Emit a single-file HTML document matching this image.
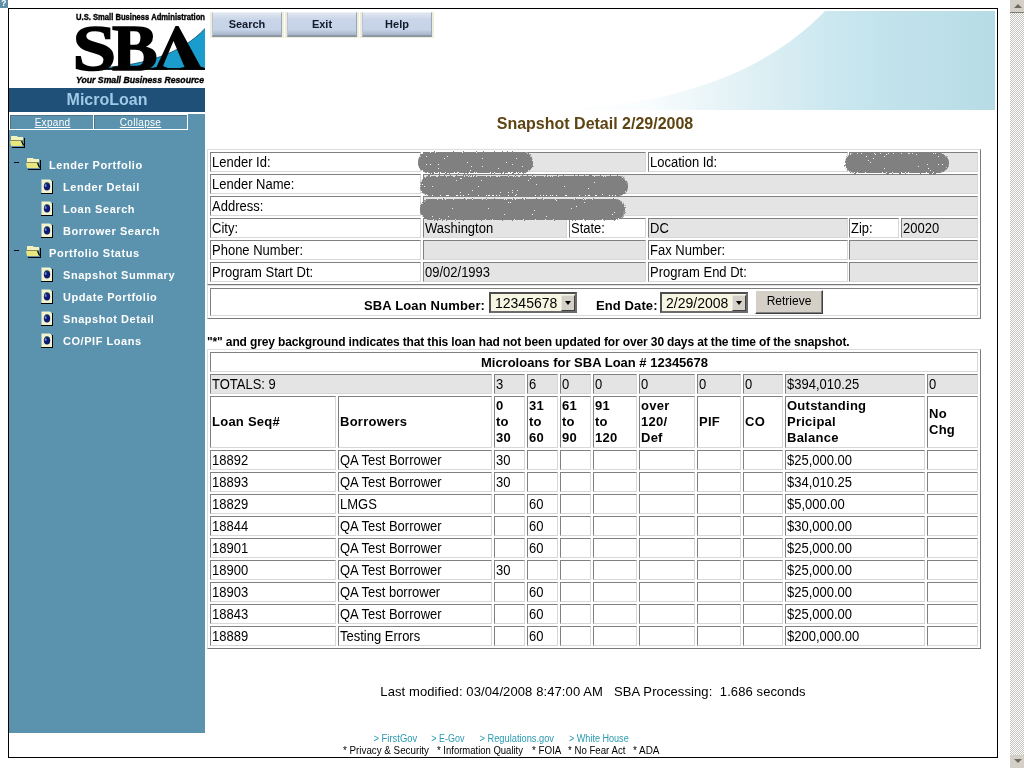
<!DOCTYPE html>
<html><head><meta charset="utf-8"><title>Snapshot Detail</title>
<style>
html,body{margin:0;padding:0;background:#fff;width:1024px;height:768px;overflow:hidden;}
body{position:relative;font-family:"Liberation Sans",sans-serif;will-change:transform;}
div{position:absolute;box-sizing:border-box;}
.c{font-size:13px;line-height:16px;padding:2px 0 0 1px;color:#000;white-space:nowrap;overflow:hidden;}
.b{font-weight:bold;}
.c:not(.b)>span{display:inline-block;transform:scaleY(1.1);transform-origin:0 12.5px;}
.nav{color:#fff;font-weight:bold;font-size:11px;letter-spacing:0.55px;white-space:nowrap;}
</style></head><body>

<div style="left:0;top:0;width:8px;height:8px;background:#5f8fa6;overflow:hidden;"><span style="position:absolute;left:1px;top:-2px;color:#fff;font:bold 9px 'Liberation Sans',sans-serif;">?</span></div>
<div style="left:8px;top:8px;width:990px;height:750px;border:1px solid #000;"></div>
<div style="left:1010px;top:0;width:14px;height:768px;background-color:#f4f3f0;background-image:conic-gradient(#c6c4c0 25%,#fff 0 50%,#c6c4c0 0 75%,#fff 0);background-size:2px 2px;"></div>
<div style="left:1010px;top:0;width:14px;height:13px;background:#d4d0c8;border-bottom:1px solid #807c74;"></div>
<div style="left:1014px;top:4px;width:0;height:0;border-left:4px solid transparent;border-right:4px solid transparent;border-bottom:4px solid #6e6a62;"></div>
<div style="left:1010px;top:755px;width:14px;height:13px;background:#d4d0c8;"></div>
<div style="left:1014px;top:759px;width:0;height:0;border-left:4px solid transparent;border-right:4px solid transparent;border-top:4px solid #6e6a62;"></div>
<svg style="position:absolute;left:0;top:0" width="1024" height="768" viewBox="0 0 1024 768">
<defs><linearGradient id="hg" x1="530" y1="0" x2="995" y2="0" gradientUnits="userSpaceOnUse">
<stop offset="0" stop-color="#ffffff"/><stop offset="0.24" stop-color="#fafdfe"/><stop offset="0.37" stop-color="#ecf6f9"/><stop offset="0.52" stop-color="#daeef3"/><stop offset="0.66" stop-color="#cae7ef"/><stop offset="0.79" stop-color="#c1e2eb"/><stop offset="1" stop-color="#b7dce6"/></linearGradient></defs>
<path d="M825 11 L995 11 L995 110 L530 110 C692 110 778 60 825 11 Z" fill="url(#hg)"/>
</svg>
<div style="left:9px;top:88px;width:196px;height:24px;background:#1f5078;"></div>
<div style="left:9px;top:88px;width:196px;height:24px;text-align:center;color:#9ecae8;font:bold 16px/24px 'Liberation Sans',sans-serif;">MicroLoan</div>
<div style="left:9px;top:112px;width:196px;height:621px;background:#5b93ae;"></div>
<div style="left:9px;top:112px;width:196px;height:2px;background:#fff;"></div>
<div style="left:9px;top:112px;width:179px;height:18px;background:#fff;"></div>
<div style="left:10px;top:115px;width:83px;height:14px;background:#5b93ae;border-top:1px solid #4d7488;border-left:1px solid #4d7488;"></div>
<div style="left:94px;top:115px;width:93px;height:14px;background:#5b93ae;border-top:1px solid #4d7488;border-left:1px solid #4d7488;"></div>
<div style="left:10px;top:115px;width:83px;height:14px;text-align:center;color:#fff;font:10px/15px 'Liberation Sans',sans-serif;letter-spacing:0.3px;text-decoration:underline;padding-left:2px;">Expand</div>
<div style="left:94px;top:115px;width:93px;height:14px;text-align:center;color:#fff;font:10px/15px 'Liberation Sans',sans-serif;letter-spacing:0.3px;text-decoration:underline;">Collapse</div>
<svg style="position:absolute;left:10px;top:135px" width="16" height="13" viewBox="0 0 16 13"><path d="M1 1H7L8 2H13V5H1Z" fill="#f3f1bc"/><rect x="1" y="5" width="12" height="1" fill="#8a8a5a"/><path d="M0 6H12L13 9V11H1Z" fill="#e8e67e"/><rect x="14" y="3" width="1" height="10" fill="#000"/><rect x="2" y="12" width="13" height="1" fill="#000"/><path d="M11.5 6L13.5 10.5" stroke="#000" stroke-width="1.2"/></svg>
<div style="left:14px;top:162px;width:5px;height:1px;background:#000;"></div>
<svg style="position:absolute;left:26px;top:157px" width="16" height="13" viewBox="0 0 16 13"><path d="M1 1H7L8 2H13V5H1Z" fill="#f3f1bc"/><rect x="1" y="5" width="12" height="1" fill="#8a8a5a"/><path d="M0 6H12L13 9V11H1Z" fill="#e8e67e"/><rect x="14" y="3" width="1" height="10" fill="#000"/><rect x="2" y="12" width="13" height="1" fill="#000"/><path d="M11.5 6L13.5 10.5" stroke="#000" stroke-width="1.2"/></svg>
<div class="nav" style="left:49px;top:158px;line-height:14px;">Lender Portfolio</div>
<svg style="position:absolute;left:41px;top:179px" width="13" height="16" viewBox="0 0 13 16"><path d="M0.5 0.5H9L11 2.5V14.5H0.5Z" fill="#f3f3cf"/><rect x="11" y="2" width="1" height="13" fill="#000"/><rect x="0" y="14" width="12" height="1" fill="#000"/><ellipse cx="6" cy="7.5" rx="3.2" ry="4" fill="#101a70"/><ellipse cx="4.6" cy="6.5" rx="1" ry="1.6" fill="#6a8ad8"/><path d="M4 4.2Q6 2.8 8.5 4.5" stroke="#2a6a50" stroke-width="0.8" fill="none"/></svg>
<div class="nav" style="left:63px;top:180px;line-height:14px;">Lender Detail</div>
<svg style="position:absolute;left:41px;top:201px" width="13" height="16" viewBox="0 0 13 16"><path d="M0.5 0.5H9L11 2.5V14.5H0.5Z" fill="#f3f3cf"/><rect x="11" y="2" width="1" height="13" fill="#000"/><rect x="0" y="14" width="12" height="1" fill="#000"/><ellipse cx="6" cy="7.5" rx="3.2" ry="4" fill="#101a70"/><ellipse cx="4.6" cy="6.5" rx="1" ry="1.6" fill="#6a8ad8"/><path d="M4 4.2Q6 2.8 8.5 4.5" stroke="#2a6a50" stroke-width="0.8" fill="none"/></svg>
<div class="nav" style="left:63px;top:202px;line-height:14px;">Loan Search</div>
<svg style="position:absolute;left:41px;top:223px" width="13" height="16" viewBox="0 0 13 16"><path d="M0.5 0.5H9L11 2.5V14.5H0.5Z" fill="#f3f3cf"/><rect x="11" y="2" width="1" height="13" fill="#000"/><rect x="0" y="14" width="12" height="1" fill="#000"/><ellipse cx="6" cy="7.5" rx="3.2" ry="4" fill="#101a70"/><ellipse cx="4.6" cy="6.5" rx="1" ry="1.6" fill="#6a8ad8"/><path d="M4 4.2Q6 2.8 8.5 4.5" stroke="#2a6a50" stroke-width="0.8" fill="none"/></svg>
<div class="nav" style="left:63px;top:224px;line-height:14px;">Borrower Search</div>
<div style="left:14px;top:250px;width:5px;height:1px;background:#000;"></div>
<svg style="position:absolute;left:26px;top:245px" width="16" height="13" viewBox="0 0 16 13"><path d="M1 1H7L8 2H13V5H1Z" fill="#f3f1bc"/><rect x="1" y="5" width="12" height="1" fill="#8a8a5a"/><path d="M0 6H12L13 9V11H1Z" fill="#e8e67e"/><rect x="14" y="3" width="1" height="10" fill="#000"/><rect x="2" y="12" width="13" height="1" fill="#000"/><path d="M11.5 6L13.5 10.5" stroke="#000" stroke-width="1.2"/></svg>
<div class="nav" style="left:49px;top:246px;line-height:14px;">Portfolio Status</div>
<svg style="position:absolute;left:41px;top:267px" width="13" height="16" viewBox="0 0 13 16"><path d="M0.5 0.5H9L11 2.5V14.5H0.5Z" fill="#f3f3cf"/><rect x="11" y="2" width="1" height="13" fill="#000"/><rect x="0" y="14" width="12" height="1" fill="#000"/><ellipse cx="6" cy="7.5" rx="3.2" ry="4" fill="#101a70"/><ellipse cx="4.6" cy="6.5" rx="1" ry="1.6" fill="#6a8ad8"/><path d="M4 4.2Q6 2.8 8.5 4.5" stroke="#2a6a50" stroke-width="0.8" fill="none"/></svg>
<div class="nav" style="left:63px;top:268px;line-height:14px;">Snapshot Summary</div>
<svg style="position:absolute;left:41px;top:289px" width="13" height="16" viewBox="0 0 13 16"><path d="M0.5 0.5H9L11 2.5V14.5H0.5Z" fill="#f3f3cf"/><rect x="11" y="2" width="1" height="13" fill="#000"/><rect x="0" y="14" width="12" height="1" fill="#000"/><ellipse cx="6" cy="7.5" rx="3.2" ry="4" fill="#101a70"/><ellipse cx="4.6" cy="6.5" rx="1" ry="1.6" fill="#6a8ad8"/><path d="M4 4.2Q6 2.8 8.5 4.5" stroke="#2a6a50" stroke-width="0.8" fill="none"/></svg>
<div class="nav" style="left:63px;top:290px;line-height:14px;">Update Portfolio</div>
<svg style="position:absolute;left:41px;top:311px" width="13" height="16" viewBox="0 0 13 16"><path d="M0.5 0.5H9L11 2.5V14.5H0.5Z" fill="#f3f3cf"/><rect x="11" y="2" width="1" height="13" fill="#000"/><rect x="0" y="14" width="12" height="1" fill="#000"/><ellipse cx="6" cy="7.5" rx="3.2" ry="4" fill="#101a70"/><ellipse cx="4.6" cy="6.5" rx="1" ry="1.6" fill="#6a8ad8"/><path d="M4 4.2Q6 2.8 8.5 4.5" stroke="#2a6a50" stroke-width="0.8" fill="none"/></svg>
<div class="nav" style="left:63px;top:312px;line-height:14px;">Snapshot Detail</div>
<svg style="position:absolute;left:41px;top:333px" width="13" height="16" viewBox="0 0 13 16"><path d="M0.5 0.5H9L11 2.5V14.5H0.5Z" fill="#f3f3cf"/><rect x="11" y="2" width="1" height="13" fill="#000"/><rect x="0" y="14" width="12" height="1" fill="#000"/><ellipse cx="6" cy="7.5" rx="3.2" ry="4" fill="#101a70"/><ellipse cx="4.6" cy="6.5" rx="1" ry="1.6" fill="#6a8ad8"/><path d="M4 4.2Q6 2.8 8.5 4.5" stroke="#2a6a50" stroke-width="0.8" fill="none"/></svg>
<div class="nav" style="left:63px;top:334px;line-height:14px;">CO/PIF Loans</div>
<svg style="position:absolute;left:0;top:0" width="210" height="90" viewBox="0 0 210 90">
<path d="M104 67.5 C144.8 64.7 181.5 53.7 205 28.5 L205 69.5 L104 69.5 Z" fill="#1a9dcc"/>
<path d="M104 67.5 C144.8 64.7 181.5 53.7 205 28.5" fill="none" stroke="#0b4a66" stroke-width="0.8"/>
<rect x="104" y="68" width="101" height="1.8" fill="#000"/>
<g transform="translate(72.4,70) scale(1.19,1)"><text x="0" y="0" font-family="Liberation Serif" font-weight="bold" font-size="66" fill="#000" stroke="#000" stroke-width="1.6">S</text></g>
<g transform="translate(112,69.5) scale(1.035,1)"><text x="0" y="0" font-family="Liberation Serif" font-weight="bold" font-size="66" fill="#000" stroke="#000" stroke-width="1.6">B</text></g>
<path d="M151.5 69.8 L151.5 68 L156.5 67 L175.5 26 L178.5 26 L200.5 66.5 L205 68 L205 69.8 L179.5 69.8 L179.5 68 L184.5 67 L173.5 41 L163 66 L167.8 68 L167.8 69.8 Z" fill="#000"/>
<text x="140.5" y="19.8" text-anchor="middle" font-family="Liberation Sans" font-weight="bold" font-size="8.4" textLength="129" lengthAdjust="spacingAndGlyphs" fill="#000" stroke="#000" stroke-width="0.35">U.S. Small Business Administration</text>
<text x="140" y="83.2" text-anchor="middle" font-family="Liberation Sans" font-weight="bold" font-style="italic" font-size="8.4" textLength="128" lengthAdjust="spacingAndGlyphs" fill="#000" stroke="#000" stroke-width="0.35">Your Small Business Resource</text>
</svg>
<div style="left:210px;top:12px;width:74px;height:26px;background:#efeedd;"></div>
<div style="left:212px;top:12px;width:70px;height:25px;background:linear-gradient(#dfe6f0,#c9d5e8 30%,#c6d3e8 75%,#a9b6c8);border-top:1px solid #eef2f8;border-bottom:2px solid #8c97a6;border-right:1px solid #9aa6b4;border-left:1px solid #b8c4d4;text-align:center;font:bold 11px/23px 'Liberation Sans',sans-serif;color:#111a2a;">Search</div>
<div style="left:285px;top:12px;width:74px;height:26px;background:#efeedd;"></div>
<div style="left:287px;top:12px;width:70px;height:25px;background:linear-gradient(#dfe6f0,#c9d5e8 30%,#c6d3e8 75%,#a9b6c8);border-top:1px solid #eef2f8;border-bottom:2px solid #8c97a6;border-right:1px solid #9aa6b4;border-left:1px solid #b8c4d4;text-align:center;font:bold 11px/23px 'Liberation Sans',sans-serif;color:#111a2a;">Exit</div>
<div style="left:360px;top:12px;width:74px;height:26px;background:#efeedd;"></div>
<div style="left:362px;top:12px;width:70px;height:25px;background:linear-gradient(#dfe6f0,#c9d5e8 30%,#c6d3e8 75%,#a9b6c8);border-top:1px solid #eef2f8;border-bottom:2px solid #8c97a6;border-right:1px solid #9aa6b4;border-left:1px solid #b8c4d4;text-align:center;font:bold 11px/23px 'Liberation Sans',sans-serif;color:#111a2a;">Help</div>
<div style="left:207px;top:114px;width:776px;text-align:center;color:#5e4412;font:bold 16px/20px 'Liberation Sans',sans-serif;">Snapshot Detail 2/29/2008</div>
<div style="left:207px;top:149px;width:774px;height:136px;border-style:solid;border-width:1px;border-color:#dcdcdc #7a7a7a #7a7a7a #dcdcdc;"></div>
<div class="c" style="left:210px;top:152px;width:211px;height:20px;background:#fff;border-style:solid;border-width:1px;border-color:#808080 #d8d8d8 #d8d8d8 #808080;"><span style="">Lender Id:</span></div>
<div class="c" style="left:423px;top:152px;width:223px;height:20px;background:#e4e4e4;border-style:solid;border-width:1px;border-color:#808080 #d8d8d8 #d8d8d8 #808080;"><span style=""></span></div>
<div class="c" style="left:648px;top:152px;width:200px;height:20px;background:#fff;border-style:solid;border-width:1px;border-color:#808080 #d8d8d8 #d8d8d8 #808080;"><span style="">Location Id:</span></div>
<div class="c" style="left:849px;top:152px;width:129px;height:20px;background:#e4e4e4;border-style:solid;border-width:1px;border-color:#808080 #d8d8d8 #d8d8d8 #808080;"><span style=""></span></div>
<div class="c" style="left:210px;top:174px;width:211px;height:20px;background:#fff;border-style:solid;border-width:1px;border-color:#808080 #d8d8d8 #d8d8d8 #808080;"><span style="">Lender Name:</span></div>
<div class="c" style="left:423px;top:174px;width:555px;height:20px;background:#e4e4e4;border-style:solid;border-width:1px;border-color:#808080 #d8d8d8 #d8d8d8 #808080;"><span style=""></span></div>
<div class="c" style="left:210px;top:196px;width:211px;height:20px;background:#fff;border-style:solid;border-width:1px;border-color:#808080 #d8d8d8 #d8d8d8 #808080;"><span style="">Address:</span></div>
<div class="c" style="left:423px;top:196px;width:555px;height:20px;background:#e4e4e4;border-style:solid;border-width:1px;border-color:#808080 #d8d8d8 #d8d8d8 #808080;"><span style=""></span></div>
<div class="c" style="left:210px;top:218px;width:211px;height:20px;background:#fff;border-style:solid;border-width:1px;border-color:#808080 #d8d8d8 #d8d8d8 #808080;"><span style="">City:</span></div>
<div class="c" style="left:423px;top:218px;width:144px;height:20px;background:#e4e4e4;border-style:solid;border-width:1px;border-color:#808080 #d8d8d8 #d8d8d8 #808080;"><span style="">Washington</span></div>
<div class="c" style="left:569px;top:218px;width:77px;height:20px;background:#fff;border-style:solid;border-width:1px;border-color:#808080 #d8d8d8 #d8d8d8 #808080;"><span style="">State:</span></div>
<div class="c" style="left:648px;top:218px;width:200px;height:20px;background:#e4e4e4;border-style:solid;border-width:1px;border-color:#808080 #d8d8d8 #d8d8d8 #808080;"><span style="">DC</span></div>
<div class="c" style="left:849px;top:218px;width:50px;height:20px;background:#fff;border-style:solid;border-width:1px;border-color:#808080 #d8d8d8 #d8d8d8 #808080;"><span style="">Zip:</span></div>
<div class="c" style="left:901px;top:218px;width:77px;height:20px;background:#e4e4e4;border-style:solid;border-width:1px;border-color:#808080 #d8d8d8 #d8d8d8 #808080;"><span style="">20020</span></div>
<div class="c" style="left:210px;top:240px;width:211px;height:20px;background:#fff;border-style:solid;border-width:1px;border-color:#808080 #d8d8d8 #d8d8d8 #808080;"><span style="">Phone Number:</span></div>
<div class="c" style="left:423px;top:240px;width:223px;height:20px;background:#e4e4e4;border-style:solid;border-width:1px;border-color:#808080 #d8d8d8 #d8d8d8 #808080;"><span style=""></span></div>
<div class="c" style="left:648px;top:240px;width:200px;height:20px;background:#fff;border-style:solid;border-width:1px;border-color:#808080 #d8d8d8 #d8d8d8 #808080;"><span style="">Fax Number:</span></div>
<div class="c" style="left:849px;top:240px;width:129px;height:20px;background:#e4e4e4;border-style:solid;border-width:1px;border-color:#808080 #d8d8d8 #d8d8d8 #808080;"><span style=""></span></div>
<div class="c" style="left:210px;top:262px;width:211px;height:20px;background:#fff;border-style:solid;border-width:1px;border-color:#808080 #d8d8d8 #d8d8d8 #808080;"><span style="">Program Start Dt:</span></div>
<div class="c" style="left:423px;top:262px;width:223px;height:20px;background:#e4e4e4;border-style:solid;border-width:1px;border-color:#808080 #d8d8d8 #d8d8d8 #808080;"><span style="">09/02/1993</span></div>
<div class="c" style="left:648px;top:262px;width:200px;height:20px;background:#fff;border-style:solid;border-width:1px;border-color:#808080 #d8d8d8 #d8d8d8 #808080;"><span style="">Program End Dt:</span></div>
<div class="c" style="left:849px;top:262px;width:129px;height:20px;background:#e4e4e4;border-style:solid;border-width:1px;border-color:#808080 #d8d8d8 #d8d8d8 #808080;"><span style=""></span></div>
<svg style="position:absolute;left:0;top:0" width="1024" height="768" viewBox="0 0 1024 768">
<defs><filter id="spr" x="-5%" y="-30%" width="110%" height="160%">
<feTurbulence type="fractalNoise" baseFrequency="0.9" numOctaves="1" seed="4" result="t"/>
<feDisplacementMap in="SourceGraphic" in2="t" scale="4" xChannelSelector="R" yChannelSelector="G" result="d"/>
<feTurbulence type="fractalNoise" baseFrequency="1.5" numOctaves="1" seed="11" result="t2"/>
<feColorMatrix in="t2" type="matrix" values="0 0 0 0 1  0 0 0 0 1  0 0 0 0 1  1 0 0 0 0" result="w"/>
<feComponentTransfer in="w" result="w2"><feFuncA type="discrete" tableValues="0 0 0 0 0 0 0 0 0 0 0 0 0 0 0 0.8 1 1 1 1"/></feComponentTransfer>
<feComposite in="w2" in2="d" operator="atop" result="spk"/>
<feMerge><feMergeNode in="d"/><feMergeNode in="spk"/></feMerge>
</filter></defs>
<g filter="url(#spr)" fill="#808080">
<rect x="418" y="152" width="115" height="21" rx="10" ry="10"/>
<rect x="420" y="176" width="208" height="20" rx="10" ry="10"/>
<rect x="420" y="199" width="205" height="21" rx="10" ry="10"/>
<rect x="845" y="153" width="104" height="20" rx="10" ry="10"/>
</g></svg>
<div style="left:207px;top:285px;width:774px;height:34px;border-style:solid;border-width:1px;border-color:#dcdcdc #7a7a7a #7a7a7a #dcdcdc;"></div>
<div class="c" style="left:210px;top:288px;width:768px;height:28px;background:#fff;border-style:solid;border-width:1px;border-color:#808080 #d8d8d8 #d8d8d8 #808080;"><span style=""></span></div>
<div class="b" style="left:364px;top:298px;font-size:13px;line-height:16px;letter-spacing:0.15px;">SBA Loan Number:</div>
<div class="b" style="left:596px;top:298px;font-size:13px;line-height:16px;letter-spacing:0.1px;">End Date:</div>
<div style="left:489px;top:292px;width:88px;height:21px;background:#f6f6e2;border:2px solid;border-color:#4e4e4e #6c6c6c #6c6c6c #4e4e4e;"></div><div style="left:495px;top:295px;font:14px/17px 'Liberation Sans',sans-serif;color:#000;">12345678</div><div style="left:561px;top:295px;width:14px;height:16px;background:#d4d0c8;border:1px solid;border-color:#e8e6e0 #404040 #404040 #e8e6e0;"></div><div style="left:564.5px;top:301px;width:0;height:0;border-left:3.5px solid transparent;border-right:3.5px solid transparent;border-top:4px solid #000;"></div>
<div style="left:660px;top:292px;width:88px;height:21px;background:#f6f6e2;border:2px solid;border-color:#4e4e4e #6c6c6c #6c6c6c #4e4e4e;"></div><div style="left:666px;top:295px;font:14px/17px 'Liberation Sans',sans-serif;color:#000;">2/29/2008</div><div style="left:732px;top:295px;width:14px;height:16px;background:#d4d0c8;border:1px solid;border-color:#e8e6e0 #404040 #404040 #e8e6e0;"></div><div style="left:735.5px;top:301px;width:0;height:0;border-left:3.5px solid transparent;border-right:3.5px solid transparent;border-top:4px solid #000;"></div>
<div style="left:755px;top:290px;width:68px;height:24px;background:#d4d0c8;border:1px solid;border-color:#fff #404040 #404040 #fff;box-shadow:inset -1px -1px 0 #808080;text-align:center;font:12px/21px 'Liberation Sans',sans-serif;color:#000;">Retrieve</div>
<div class="b" style="left:207px;top:335px;font-size:12px;line-height:15px;letter-spacing:-0.13px;white-space:nowrap;">"*" and grey background indicates that this loan had not been updated for over 30 days at the time of the snapshot.</div>
<div style="left:207px;top:349px;width:774px;height:300px;border-style:solid;border-width:1px;border-color:#dcdcdc #7a7a7a #7a7a7a #dcdcdc;"></div>
<div class="c b" style="left:210px;top:352px;width:768px;height:20px;background:#fff;border-style:solid;border-width:1px;border-color:#808080 #d8d8d8 #d8d8d8 #808080;text-align:center;"><span style="">Microloans for SBA Loan # 12345678</span></div>
<div class="c" style="left:210px;top:374px;width:282px;height:20px;background:#e4e4e4;border-style:solid;border-width:1px;border-color:#808080 #d8d8d8 #d8d8d8 #808080;"><span style="">TOTALS: 9</span></div>
<div class="c" style="left:494px;top:374px;width:31px;height:20px;background:#e4e4e4;border-style:solid;border-width:1px;border-color:#808080 #d8d8d8 #d8d8d8 #808080;"><span style="">3</span></div>
<div class="c" style="left:527px;top:374px;width:31px;height:20px;background:#e4e4e4;border-style:solid;border-width:1px;border-color:#808080 #d8d8d8 #d8d8d8 #808080;"><span style="">6</span></div>
<div class="c" style="left:560px;top:374px;width:31px;height:20px;background:#e4e4e4;border-style:solid;border-width:1px;border-color:#808080 #d8d8d8 #d8d8d8 #808080;"><span style="">0</span></div>
<div class="c" style="left:593px;top:374px;width:44px;height:20px;background:#e4e4e4;border-style:solid;border-width:1px;border-color:#808080 #d8d8d8 #d8d8d8 #808080;"><span style="">0</span></div>
<div class="c" style="left:639px;top:374px;width:56px;height:20px;background:#e4e4e4;border-style:solid;border-width:1px;border-color:#808080 #d8d8d8 #d8d8d8 #808080;"><span style="">0</span></div>
<div class="c" style="left:697px;top:374px;width:44px;height:20px;background:#e4e4e4;border-style:solid;border-width:1px;border-color:#808080 #d8d8d8 #d8d8d8 #808080;"><span style="">0</span></div>
<div class="c" style="left:743px;top:374px;width:40px;height:20px;background:#e4e4e4;border-style:solid;border-width:1px;border-color:#808080 #d8d8d8 #d8d8d8 #808080;"><span style="">0</span></div>
<div class="c" style="left:785px;top:374px;width:140px;height:20px;background:#e4e4e4;border-style:solid;border-width:1px;border-color:#808080 #d8d8d8 #d8d8d8 #808080;"><span style="">$394,010.25</span></div>
<div class="c" style="left:927px;top:374px;width:51px;height:20px;background:#e4e4e4;border-style:solid;border-width:1px;border-color:#808080 #d8d8d8 #d8d8d8 #808080;"><span style="">0</span></div>
<div class="c b" style="left:210px;top:396px;width:126px;height:52px;border-style:solid;border-width:1px;border-color:#808080 #d8d8d8 #d8d8d8 #808080;display:flex;align-items:center;padding:0 0 0 1px;line-height:16px;white-space:nowrap;letter-spacing:0.25px;"><span>Loan Seq#</span></div>
<div class="c b" style="left:338px;top:396px;width:154px;height:52px;border-style:solid;border-width:1px;border-color:#808080 #d8d8d8 #d8d8d8 #808080;display:flex;align-items:center;padding:0 0 0 1px;line-height:16px;white-space:nowrap;letter-spacing:0.25px;"><span>Borrowers</span></div>
<div class="c b" style="left:494px;top:396px;width:31px;height:52px;border-style:solid;border-width:1px;border-color:#808080 #d8d8d8 #d8d8d8 #808080;display:flex;align-items:center;padding:0 0 0 1px;line-height:16px;white-space:nowrap;letter-spacing:0.25px;"><span>0<br>to<br>30</span></div>
<div class="c b" style="left:527px;top:396px;width:31px;height:52px;border-style:solid;border-width:1px;border-color:#808080 #d8d8d8 #d8d8d8 #808080;display:flex;align-items:center;padding:0 0 0 1px;line-height:16px;white-space:nowrap;letter-spacing:0.25px;"><span>31<br>to<br>60</span></div>
<div class="c b" style="left:560px;top:396px;width:31px;height:52px;border-style:solid;border-width:1px;border-color:#808080 #d8d8d8 #d8d8d8 #808080;display:flex;align-items:center;padding:0 0 0 1px;line-height:16px;white-space:nowrap;letter-spacing:0.25px;"><span>61<br>to<br>90</span></div>
<div class="c b" style="left:593px;top:396px;width:44px;height:52px;border-style:solid;border-width:1px;border-color:#808080 #d8d8d8 #d8d8d8 #808080;display:flex;align-items:center;padding:0 0 0 1px;line-height:16px;white-space:nowrap;letter-spacing:0.25px;"><span>91<br>to<br>120</span></div>
<div class="c b" style="left:639px;top:396px;width:56px;height:52px;border-style:solid;border-width:1px;border-color:#808080 #d8d8d8 #d8d8d8 #808080;display:flex;align-items:center;padding:0 0 0 1px;line-height:16px;white-space:nowrap;letter-spacing:0.25px;"><span>over<br>120/<br>Def</span></div>
<div class="c b" style="left:697px;top:396px;width:44px;height:52px;border-style:solid;border-width:1px;border-color:#808080 #d8d8d8 #d8d8d8 #808080;display:flex;align-items:center;padding:0 0 0 1px;line-height:16px;white-space:nowrap;letter-spacing:0.25px;"><span>PIF</span></div>
<div class="c b" style="left:743px;top:396px;width:40px;height:52px;border-style:solid;border-width:1px;border-color:#808080 #d8d8d8 #d8d8d8 #808080;display:flex;align-items:center;padding:0 0 0 1px;line-height:16px;white-space:nowrap;letter-spacing:0.25px;"><span>CO</span></div>
<div class="c b" style="left:785px;top:396px;width:140px;height:52px;border-style:solid;border-width:1px;border-color:#808080 #d8d8d8 #d8d8d8 #808080;display:flex;align-items:center;padding:0 0 0 1px;line-height:16px;white-space:nowrap;letter-spacing:0.25px;"><span>Outstanding<br>Pricipal<br>Balance</span></div>
<div class="c b" style="left:927px;top:396px;width:51px;height:52px;border-style:solid;border-width:1px;border-color:#808080 #d8d8d8 #d8d8d8 #808080;display:flex;align-items:center;padding:0 0 0 1px;line-height:16px;white-space:nowrap;letter-spacing:0.25px;"><span>No<br>Chg</span></div>
<div class="c" style="left:210px;top:450px;width:126px;height:20px;background:#fff;border-style:solid;border-width:1px;border-color:#808080 #d8d8d8 #d8d8d8 #808080;"><span style="">18892</span></div>
<div class="c" style="left:338px;top:450px;width:154px;height:20px;background:#fff;border-style:solid;border-width:1px;border-color:#808080 #d8d8d8 #d8d8d8 #808080;"><span style="">QA Test Borrower</span></div>
<div class="c" style="left:494px;top:450px;width:31px;height:20px;background:#fff;border-style:solid;border-width:1px;border-color:#808080 #d8d8d8 #d8d8d8 #808080;"><span style="">30</span></div>
<div class="c" style="left:527px;top:450px;width:31px;height:20px;background:#fff;border-style:solid;border-width:1px;border-color:#808080 #d8d8d8 #d8d8d8 #808080;"><span style=""></span></div>
<div class="c" style="left:560px;top:450px;width:31px;height:20px;background:#fff;border-style:solid;border-width:1px;border-color:#808080 #d8d8d8 #d8d8d8 #808080;"><span style=""></span></div>
<div class="c" style="left:593px;top:450px;width:44px;height:20px;background:#fff;border-style:solid;border-width:1px;border-color:#808080 #d8d8d8 #d8d8d8 #808080;"><span style=""></span></div>
<div class="c" style="left:639px;top:450px;width:56px;height:20px;background:#fff;border-style:solid;border-width:1px;border-color:#808080 #d8d8d8 #d8d8d8 #808080;"><span style=""></span></div>
<div class="c" style="left:697px;top:450px;width:44px;height:20px;background:#fff;border-style:solid;border-width:1px;border-color:#808080 #d8d8d8 #d8d8d8 #808080;"><span style=""></span></div>
<div class="c" style="left:743px;top:450px;width:40px;height:20px;background:#fff;border-style:solid;border-width:1px;border-color:#808080 #d8d8d8 #d8d8d8 #808080;"><span style=""></span></div>
<div class="c" style="left:785px;top:450px;width:140px;height:20px;background:#fff;border-style:solid;border-width:1px;border-color:#808080 #d8d8d8 #d8d8d8 #808080;"><span style="">$25,000.00</span></div>
<div class="c" style="left:927px;top:450px;width:51px;height:20px;background:#fff;border-style:solid;border-width:1px;border-color:#808080 #d8d8d8 #d8d8d8 #808080;"><span style=""></span></div>
<div class="c" style="left:210px;top:472px;width:126px;height:20px;background:#fff;border-style:solid;border-width:1px;border-color:#808080 #d8d8d8 #d8d8d8 #808080;"><span style="">18893</span></div>
<div class="c" style="left:338px;top:472px;width:154px;height:20px;background:#fff;border-style:solid;border-width:1px;border-color:#808080 #d8d8d8 #d8d8d8 #808080;"><span style="">QA Test Borrower</span></div>
<div class="c" style="left:494px;top:472px;width:31px;height:20px;background:#fff;border-style:solid;border-width:1px;border-color:#808080 #d8d8d8 #d8d8d8 #808080;"><span style="">30</span></div>
<div class="c" style="left:527px;top:472px;width:31px;height:20px;background:#fff;border-style:solid;border-width:1px;border-color:#808080 #d8d8d8 #d8d8d8 #808080;"><span style=""></span></div>
<div class="c" style="left:560px;top:472px;width:31px;height:20px;background:#fff;border-style:solid;border-width:1px;border-color:#808080 #d8d8d8 #d8d8d8 #808080;"><span style=""></span></div>
<div class="c" style="left:593px;top:472px;width:44px;height:20px;background:#fff;border-style:solid;border-width:1px;border-color:#808080 #d8d8d8 #d8d8d8 #808080;"><span style=""></span></div>
<div class="c" style="left:639px;top:472px;width:56px;height:20px;background:#fff;border-style:solid;border-width:1px;border-color:#808080 #d8d8d8 #d8d8d8 #808080;"><span style=""></span></div>
<div class="c" style="left:697px;top:472px;width:44px;height:20px;background:#fff;border-style:solid;border-width:1px;border-color:#808080 #d8d8d8 #d8d8d8 #808080;"><span style=""></span></div>
<div class="c" style="left:743px;top:472px;width:40px;height:20px;background:#fff;border-style:solid;border-width:1px;border-color:#808080 #d8d8d8 #d8d8d8 #808080;"><span style=""></span></div>
<div class="c" style="left:785px;top:472px;width:140px;height:20px;background:#fff;border-style:solid;border-width:1px;border-color:#808080 #d8d8d8 #d8d8d8 #808080;"><span style="">$34,010.25</span></div>
<div class="c" style="left:927px;top:472px;width:51px;height:20px;background:#fff;border-style:solid;border-width:1px;border-color:#808080 #d8d8d8 #d8d8d8 #808080;"><span style=""></span></div>
<div class="c" style="left:210px;top:494px;width:126px;height:20px;background:#fff;border-style:solid;border-width:1px;border-color:#808080 #d8d8d8 #d8d8d8 #808080;"><span style="">18829</span></div>
<div class="c" style="left:338px;top:494px;width:154px;height:20px;background:#fff;border-style:solid;border-width:1px;border-color:#808080 #d8d8d8 #d8d8d8 #808080;"><span style="">LMGS</span></div>
<div class="c" style="left:494px;top:494px;width:31px;height:20px;background:#fff;border-style:solid;border-width:1px;border-color:#808080 #d8d8d8 #d8d8d8 #808080;"><span style=""></span></div>
<div class="c" style="left:527px;top:494px;width:31px;height:20px;background:#fff;border-style:solid;border-width:1px;border-color:#808080 #d8d8d8 #d8d8d8 #808080;"><span style="">60</span></div>
<div class="c" style="left:560px;top:494px;width:31px;height:20px;background:#fff;border-style:solid;border-width:1px;border-color:#808080 #d8d8d8 #d8d8d8 #808080;"><span style=""></span></div>
<div class="c" style="left:593px;top:494px;width:44px;height:20px;background:#fff;border-style:solid;border-width:1px;border-color:#808080 #d8d8d8 #d8d8d8 #808080;"><span style=""></span></div>
<div class="c" style="left:639px;top:494px;width:56px;height:20px;background:#fff;border-style:solid;border-width:1px;border-color:#808080 #d8d8d8 #d8d8d8 #808080;"><span style=""></span></div>
<div class="c" style="left:697px;top:494px;width:44px;height:20px;background:#fff;border-style:solid;border-width:1px;border-color:#808080 #d8d8d8 #d8d8d8 #808080;"><span style=""></span></div>
<div class="c" style="left:743px;top:494px;width:40px;height:20px;background:#fff;border-style:solid;border-width:1px;border-color:#808080 #d8d8d8 #d8d8d8 #808080;"><span style=""></span></div>
<div class="c" style="left:785px;top:494px;width:140px;height:20px;background:#fff;border-style:solid;border-width:1px;border-color:#808080 #d8d8d8 #d8d8d8 #808080;"><span style="">$5,000.00</span></div>
<div class="c" style="left:927px;top:494px;width:51px;height:20px;background:#fff;border-style:solid;border-width:1px;border-color:#808080 #d8d8d8 #d8d8d8 #808080;"><span style=""></span></div>
<div class="c" style="left:210px;top:516px;width:126px;height:20px;background:#fff;border-style:solid;border-width:1px;border-color:#808080 #d8d8d8 #d8d8d8 #808080;"><span style="">18844</span></div>
<div class="c" style="left:338px;top:516px;width:154px;height:20px;background:#fff;border-style:solid;border-width:1px;border-color:#808080 #d8d8d8 #d8d8d8 #808080;"><span style="">QA Test Borrower</span></div>
<div class="c" style="left:494px;top:516px;width:31px;height:20px;background:#fff;border-style:solid;border-width:1px;border-color:#808080 #d8d8d8 #d8d8d8 #808080;"><span style=""></span></div>
<div class="c" style="left:527px;top:516px;width:31px;height:20px;background:#fff;border-style:solid;border-width:1px;border-color:#808080 #d8d8d8 #d8d8d8 #808080;"><span style="">60</span></div>
<div class="c" style="left:560px;top:516px;width:31px;height:20px;background:#fff;border-style:solid;border-width:1px;border-color:#808080 #d8d8d8 #d8d8d8 #808080;"><span style=""></span></div>
<div class="c" style="left:593px;top:516px;width:44px;height:20px;background:#fff;border-style:solid;border-width:1px;border-color:#808080 #d8d8d8 #d8d8d8 #808080;"><span style=""></span></div>
<div class="c" style="left:639px;top:516px;width:56px;height:20px;background:#fff;border-style:solid;border-width:1px;border-color:#808080 #d8d8d8 #d8d8d8 #808080;"><span style=""></span></div>
<div class="c" style="left:697px;top:516px;width:44px;height:20px;background:#fff;border-style:solid;border-width:1px;border-color:#808080 #d8d8d8 #d8d8d8 #808080;"><span style=""></span></div>
<div class="c" style="left:743px;top:516px;width:40px;height:20px;background:#fff;border-style:solid;border-width:1px;border-color:#808080 #d8d8d8 #d8d8d8 #808080;"><span style=""></span></div>
<div class="c" style="left:785px;top:516px;width:140px;height:20px;background:#fff;border-style:solid;border-width:1px;border-color:#808080 #d8d8d8 #d8d8d8 #808080;"><span style="">$30,000.00</span></div>
<div class="c" style="left:927px;top:516px;width:51px;height:20px;background:#fff;border-style:solid;border-width:1px;border-color:#808080 #d8d8d8 #d8d8d8 #808080;"><span style=""></span></div>
<div class="c" style="left:210px;top:538px;width:126px;height:20px;background:#fff;border-style:solid;border-width:1px;border-color:#808080 #d8d8d8 #d8d8d8 #808080;"><span style="">18901</span></div>
<div class="c" style="left:338px;top:538px;width:154px;height:20px;background:#fff;border-style:solid;border-width:1px;border-color:#808080 #d8d8d8 #d8d8d8 #808080;"><span style="">QA Test Borrower</span></div>
<div class="c" style="left:494px;top:538px;width:31px;height:20px;background:#fff;border-style:solid;border-width:1px;border-color:#808080 #d8d8d8 #d8d8d8 #808080;"><span style=""></span></div>
<div class="c" style="left:527px;top:538px;width:31px;height:20px;background:#fff;border-style:solid;border-width:1px;border-color:#808080 #d8d8d8 #d8d8d8 #808080;"><span style="">60</span></div>
<div class="c" style="left:560px;top:538px;width:31px;height:20px;background:#fff;border-style:solid;border-width:1px;border-color:#808080 #d8d8d8 #d8d8d8 #808080;"><span style=""></span></div>
<div class="c" style="left:593px;top:538px;width:44px;height:20px;background:#fff;border-style:solid;border-width:1px;border-color:#808080 #d8d8d8 #d8d8d8 #808080;"><span style=""></span></div>
<div class="c" style="left:639px;top:538px;width:56px;height:20px;background:#fff;border-style:solid;border-width:1px;border-color:#808080 #d8d8d8 #d8d8d8 #808080;"><span style=""></span></div>
<div class="c" style="left:697px;top:538px;width:44px;height:20px;background:#fff;border-style:solid;border-width:1px;border-color:#808080 #d8d8d8 #d8d8d8 #808080;"><span style=""></span></div>
<div class="c" style="left:743px;top:538px;width:40px;height:20px;background:#fff;border-style:solid;border-width:1px;border-color:#808080 #d8d8d8 #d8d8d8 #808080;"><span style=""></span></div>
<div class="c" style="left:785px;top:538px;width:140px;height:20px;background:#fff;border-style:solid;border-width:1px;border-color:#808080 #d8d8d8 #d8d8d8 #808080;"><span style="">$25,000.00</span></div>
<div class="c" style="left:927px;top:538px;width:51px;height:20px;background:#fff;border-style:solid;border-width:1px;border-color:#808080 #d8d8d8 #d8d8d8 #808080;"><span style=""></span></div>
<div class="c" style="left:210px;top:560px;width:126px;height:20px;background:#fff;border-style:solid;border-width:1px;border-color:#808080 #d8d8d8 #d8d8d8 #808080;"><span style="">18900</span></div>
<div class="c" style="left:338px;top:560px;width:154px;height:20px;background:#fff;border-style:solid;border-width:1px;border-color:#808080 #d8d8d8 #d8d8d8 #808080;"><span style="">QA Test Borrower</span></div>
<div class="c" style="left:494px;top:560px;width:31px;height:20px;background:#fff;border-style:solid;border-width:1px;border-color:#808080 #d8d8d8 #d8d8d8 #808080;"><span style="">30</span></div>
<div class="c" style="left:527px;top:560px;width:31px;height:20px;background:#fff;border-style:solid;border-width:1px;border-color:#808080 #d8d8d8 #d8d8d8 #808080;"><span style=""></span></div>
<div class="c" style="left:560px;top:560px;width:31px;height:20px;background:#fff;border-style:solid;border-width:1px;border-color:#808080 #d8d8d8 #d8d8d8 #808080;"><span style=""></span></div>
<div class="c" style="left:593px;top:560px;width:44px;height:20px;background:#fff;border-style:solid;border-width:1px;border-color:#808080 #d8d8d8 #d8d8d8 #808080;"><span style=""></span></div>
<div class="c" style="left:639px;top:560px;width:56px;height:20px;background:#fff;border-style:solid;border-width:1px;border-color:#808080 #d8d8d8 #d8d8d8 #808080;"><span style=""></span></div>
<div class="c" style="left:697px;top:560px;width:44px;height:20px;background:#fff;border-style:solid;border-width:1px;border-color:#808080 #d8d8d8 #d8d8d8 #808080;"><span style=""></span></div>
<div class="c" style="left:743px;top:560px;width:40px;height:20px;background:#fff;border-style:solid;border-width:1px;border-color:#808080 #d8d8d8 #d8d8d8 #808080;"><span style=""></span></div>
<div class="c" style="left:785px;top:560px;width:140px;height:20px;background:#fff;border-style:solid;border-width:1px;border-color:#808080 #d8d8d8 #d8d8d8 #808080;"><span style="">$25,000.00</span></div>
<div class="c" style="left:927px;top:560px;width:51px;height:20px;background:#fff;border-style:solid;border-width:1px;border-color:#808080 #d8d8d8 #d8d8d8 #808080;"><span style=""></span></div>
<div class="c" style="left:210px;top:582px;width:126px;height:20px;background:#fff;border-style:solid;border-width:1px;border-color:#808080 #d8d8d8 #d8d8d8 #808080;"><span style="">18903</span></div>
<div class="c" style="left:338px;top:582px;width:154px;height:20px;background:#fff;border-style:solid;border-width:1px;border-color:#808080 #d8d8d8 #d8d8d8 #808080;"><span style="">QA Test borrower</span></div>
<div class="c" style="left:494px;top:582px;width:31px;height:20px;background:#fff;border-style:solid;border-width:1px;border-color:#808080 #d8d8d8 #d8d8d8 #808080;"><span style=""></span></div>
<div class="c" style="left:527px;top:582px;width:31px;height:20px;background:#fff;border-style:solid;border-width:1px;border-color:#808080 #d8d8d8 #d8d8d8 #808080;"><span style="">60</span></div>
<div class="c" style="left:560px;top:582px;width:31px;height:20px;background:#fff;border-style:solid;border-width:1px;border-color:#808080 #d8d8d8 #d8d8d8 #808080;"><span style=""></span></div>
<div class="c" style="left:593px;top:582px;width:44px;height:20px;background:#fff;border-style:solid;border-width:1px;border-color:#808080 #d8d8d8 #d8d8d8 #808080;"><span style=""></span></div>
<div class="c" style="left:639px;top:582px;width:56px;height:20px;background:#fff;border-style:solid;border-width:1px;border-color:#808080 #d8d8d8 #d8d8d8 #808080;"><span style=""></span></div>
<div class="c" style="left:697px;top:582px;width:44px;height:20px;background:#fff;border-style:solid;border-width:1px;border-color:#808080 #d8d8d8 #d8d8d8 #808080;"><span style=""></span></div>
<div class="c" style="left:743px;top:582px;width:40px;height:20px;background:#fff;border-style:solid;border-width:1px;border-color:#808080 #d8d8d8 #d8d8d8 #808080;"><span style=""></span></div>
<div class="c" style="left:785px;top:582px;width:140px;height:20px;background:#fff;border-style:solid;border-width:1px;border-color:#808080 #d8d8d8 #d8d8d8 #808080;"><span style="">$25,000.00</span></div>
<div class="c" style="left:927px;top:582px;width:51px;height:20px;background:#fff;border-style:solid;border-width:1px;border-color:#808080 #d8d8d8 #d8d8d8 #808080;"><span style=""></span></div>
<div class="c" style="left:210px;top:604px;width:126px;height:20px;background:#fff;border-style:solid;border-width:1px;border-color:#808080 #d8d8d8 #d8d8d8 #808080;"><span style="">18843</span></div>
<div class="c" style="left:338px;top:604px;width:154px;height:20px;background:#fff;border-style:solid;border-width:1px;border-color:#808080 #d8d8d8 #d8d8d8 #808080;"><span style="">QA Test Borrower</span></div>
<div class="c" style="left:494px;top:604px;width:31px;height:20px;background:#fff;border-style:solid;border-width:1px;border-color:#808080 #d8d8d8 #d8d8d8 #808080;"><span style=""></span></div>
<div class="c" style="left:527px;top:604px;width:31px;height:20px;background:#fff;border-style:solid;border-width:1px;border-color:#808080 #d8d8d8 #d8d8d8 #808080;"><span style="">60</span></div>
<div class="c" style="left:560px;top:604px;width:31px;height:20px;background:#fff;border-style:solid;border-width:1px;border-color:#808080 #d8d8d8 #d8d8d8 #808080;"><span style=""></span></div>
<div class="c" style="left:593px;top:604px;width:44px;height:20px;background:#fff;border-style:solid;border-width:1px;border-color:#808080 #d8d8d8 #d8d8d8 #808080;"><span style=""></span></div>
<div class="c" style="left:639px;top:604px;width:56px;height:20px;background:#fff;border-style:solid;border-width:1px;border-color:#808080 #d8d8d8 #d8d8d8 #808080;"><span style=""></span></div>
<div class="c" style="left:697px;top:604px;width:44px;height:20px;background:#fff;border-style:solid;border-width:1px;border-color:#808080 #d8d8d8 #d8d8d8 #808080;"><span style=""></span></div>
<div class="c" style="left:743px;top:604px;width:40px;height:20px;background:#fff;border-style:solid;border-width:1px;border-color:#808080 #d8d8d8 #d8d8d8 #808080;"><span style=""></span></div>
<div class="c" style="left:785px;top:604px;width:140px;height:20px;background:#fff;border-style:solid;border-width:1px;border-color:#808080 #d8d8d8 #d8d8d8 #808080;"><span style="">$25,000.00</span></div>
<div class="c" style="left:927px;top:604px;width:51px;height:20px;background:#fff;border-style:solid;border-width:1px;border-color:#808080 #d8d8d8 #d8d8d8 #808080;"><span style=""></span></div>
<div class="c" style="left:210px;top:626px;width:126px;height:20px;background:#fff;border-style:solid;border-width:1px;border-color:#808080 #d8d8d8 #d8d8d8 #808080;"><span style="">18889</span></div>
<div class="c" style="left:338px;top:626px;width:154px;height:20px;background:#fff;border-style:solid;border-width:1px;border-color:#808080 #d8d8d8 #d8d8d8 #808080;"><span style="">Testing Errors</span></div>
<div class="c" style="left:494px;top:626px;width:31px;height:20px;background:#fff;border-style:solid;border-width:1px;border-color:#808080 #d8d8d8 #d8d8d8 #808080;"><span style=""></span></div>
<div class="c" style="left:527px;top:626px;width:31px;height:20px;background:#fff;border-style:solid;border-width:1px;border-color:#808080 #d8d8d8 #d8d8d8 #808080;"><span style="">60</span></div>
<div class="c" style="left:560px;top:626px;width:31px;height:20px;background:#fff;border-style:solid;border-width:1px;border-color:#808080 #d8d8d8 #d8d8d8 #808080;"><span style=""></span></div>
<div class="c" style="left:593px;top:626px;width:44px;height:20px;background:#fff;border-style:solid;border-width:1px;border-color:#808080 #d8d8d8 #d8d8d8 #808080;"><span style=""></span></div>
<div class="c" style="left:639px;top:626px;width:56px;height:20px;background:#fff;border-style:solid;border-width:1px;border-color:#808080 #d8d8d8 #d8d8d8 #808080;"><span style=""></span></div>
<div class="c" style="left:697px;top:626px;width:44px;height:20px;background:#fff;border-style:solid;border-width:1px;border-color:#808080 #d8d8d8 #d8d8d8 #808080;"><span style=""></span></div>
<div class="c" style="left:743px;top:626px;width:40px;height:20px;background:#fff;border-style:solid;border-width:1px;border-color:#808080 #d8d8d8 #d8d8d8 #808080;"><span style=""></span></div>
<div class="c" style="left:785px;top:626px;width:140px;height:20px;background:#fff;border-style:solid;border-width:1px;border-color:#808080 #d8d8d8 #d8d8d8 #808080;"><span style="">$200,000.00</span></div>
<div class="c" style="left:927px;top:626px;width:51px;height:20px;background:#fff;border-style:solid;border-width:1px;border-color:#808080 #d8d8d8 #d8d8d8 #808080;"><span style=""></span></div>
<div style="left:205px;top:684px;width:776px;text-align:center;font:13px/16px 'Liberation Sans',sans-serif;color:#000;white-space:pre;letter-spacing:0.1px;">Last modified: 03/04/2008 8:47:00 AM   SBA Processing:  1.686 seconds</div>
<svg style="position:absolute;left:0;top:0" width="1024" height="768" viewBox="0 0 1024 768"><text x="373.5" y="742" font-family="Liberation Sans" font-size="10" textLength="43.7" lengthAdjust="spacingAndGlyphs" fill="#2a9ab0">&gt; FirstGov</text><text x="431.3" y="742" font-family="Liberation Sans" font-size="10" textLength="33.3" lengthAdjust="spacingAndGlyphs" fill="#2a9ab0">&gt; E-Gov</text><text x="479.5" y="742" font-family="Liberation Sans" font-size="10" textLength="74.5" lengthAdjust="spacingAndGlyphs" fill="#2a9ab0">&gt; Regulations.gov</text><text x="569" y="742" font-family="Liberation Sans" font-size="10" textLength="59.7" lengthAdjust="spacingAndGlyphs" fill="#2a9ab0">&gt; White House</text><text x="343" y="754" font-family="Liberation Sans" font-size="10" textLength="86.0" lengthAdjust="spacingAndGlyphs" fill="#000">* Privacy &amp; Security</text><text x="437" y="754" font-family="Liberation Sans" font-size="10" textLength="86.0" lengthAdjust="spacingAndGlyphs" fill="#000">* Information Quality</text><text x="532" y="754" font-family="Liberation Sans" font-size="10" textLength="29.4" lengthAdjust="spacingAndGlyphs" fill="#000">* FOIA</text><text x="568" y="754" font-family="Liberation Sans" font-size="10" textLength="57.4" lengthAdjust="spacingAndGlyphs" fill="#000">* No Fear Act</text><text x="633" y="754" font-family="Liberation Sans" font-size="10" textLength="26.5" lengthAdjust="spacingAndGlyphs" fill="#000">* ADA</text></svg>
</body></html>
